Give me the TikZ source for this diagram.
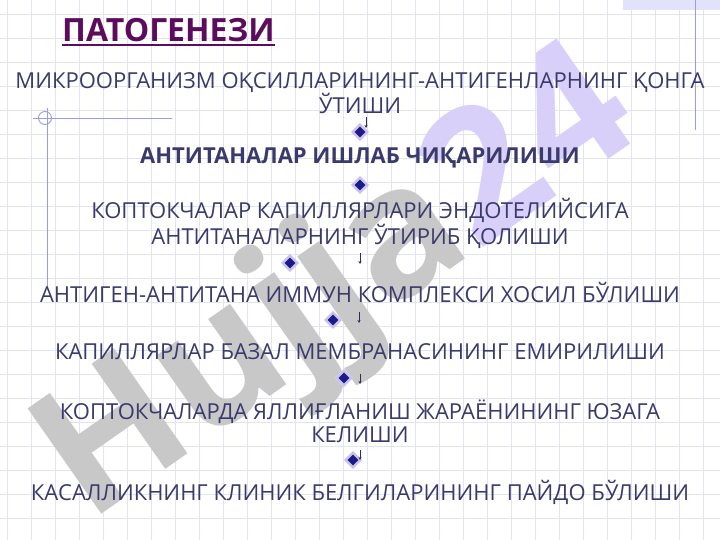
\documentclass[tikz,border=0pt]{standalone}
\usepackage{fontspec}
\setmainfont{Open Sans}
\definecolor{txt}{HTML}{3A3A6C}
\definecolor{ttl}{HTML}{5C0C5C}
\definecolor{gridc}{HTML}{E4E4EE}
\definecolor{deco}{HTML}{9C9CE4}
\definecolor{band}{HTML}{E2E2FA}
\definecolor{halo}{HTML}{C8C0F0}
\definecolor{core}{HTML}{1C1A84}
\definecolor{wmgray}{HTML}{C8C8C8}
\definecolor{wmpurp}{HTML}{D8D0F8}
\tikzset{
  x=1pt, y=-1pt,
  step-text/.style={text=txt, align=center, font=\fontsize{22}{23}\selectfont, inner sep=0pt},
  dia/.style={diamond, fill=halo, draw=halo!70!white, minimum size=18pt, inner sep=0pt,
    path picture={\fill[core] (path picture bounding box.center) ++(0,5.3) -- ++(5.3,-5.3) -- ++(-5.3,-5.3) -- ++(-5.3,5.3) -- cycle;}},
  tinyarrow/.style={draw=txt!80!black, line width=0.6pt, -{Stealth[length=3pt,width=3pt]}},
}
\usetikzlibrary{shapes.geometric,arrows.meta}
\begin{document}
\begin{tikzpicture}
\useasboundingbox (0,0) rectangle (720,540);
\fill[white] (0,0) rectangle (720,540);
% grid
\foreach \gx in {7,31,...,720} \draw[gridc, line width=0.9pt] (\gx,0) -- (\gx,540);
\foreach \gy in {14,38,...,540} \draw[gridc, line width=0.9pt] (0,\gy) -- (720,\gy);
% top-right band and line
\fill[band] (623,0) rectangle (720,10);
\draw[deco, line width=1pt] (695,0) -- (695,130);
% left decoration
\draw[deco, line width=0.9pt] (33,118) -- (172,118);
\draw[deco, line width=0.9pt] (47,108) -- (47,290);
\draw[deco, line width=0.9pt] (45,118) circle (6.5);
% watermark
\node[rotate=35, font=\fontsize{180}{180}\bfseries\selectfont, inner sep=0pt] (wm) at (340,290)
  {\textcolor{wmgray}{Hujja}\textcolor{wmpurp}{24}};
% title
\node[text=ttl, font=\fontsize{32}{34}\bfseries\selectfont, inner sep=0pt, anchor=west] (title) at (62,30) {ПАТОГЕНЕЗИ};
\draw[ttl, line width=2.4pt] (title.south west) ++(0,3) -- ([yshift=-3pt]title.south east);
% steps
\node[step-text] (s1) at (360,93) {МИКРООРГАНИЗМ ОҚСИЛЛАРИНИНГ-АНТИГЕНЛАРНИНГ ҚОНГА\\ЎТИШИ};
\node[step-text, font=\fontsize{22}{23}\bfseries\selectfont] (s2) at (360,158) {АНТИТАНАЛАР ИШЛАБ ЧИҚАРИЛИШИ};
\node[step-text] (s3) at (360,223.5) {КОПТОКЧАЛАР КАПИЛЛЯРЛАРИ ЭНДОТЕЛИЙСИГА\\АНТИТАНАЛАРНИНГ ЎТИРИБ ҚОЛИШИ};
\node[step-text] (s4) at (360,293) {АНТИГЕН-АНТИТАНА ИММУН КОМПЛЕКСИ ХОСИЛ БЎЛИШИ};
\node[step-text] (s5) at (360,352) {КАПИЛЛЯРЛАР БАЗАЛ МЕМБРАНАСИНИНГ ЕМИРИЛИШИ};
\node[step-text] (s6) at (360,421.5) {КОПТОКЧАЛАРДА ЯЛЛИҒЛАНИШ ЖАРАЁНИНИНГ ЮЗАГА\\КЕЛИШИ};
\node[step-text] (s7) at (360,492) {КАСАЛЛИКНИНГ КЛИНИК БЕЛГИЛАРИНИНГ ПАЙДО БЎЛИШИ};
% diamonds
\node[dia] (d1) at (360,132) {};
\node[dia] (d2) at (360,185) {};
\node[dia] (d3) at (290,263) {};
\node[dia] (d4) at (333,320) {};
\node[dia] (d5) at (344,378) {};
\node[dia] (d6) at (353,460) {};
% tiny arrows
\coordinate (a1s) at (366,117); \coordinate (a1e) at (366,128);
\coordinate (a3s) at (360,253); \coordinate (a3e) at (360,264);
\coordinate (a4s) at (359,312); \coordinate (a4e) at (359,323);
\coordinate (a5s) at (360,374); \coordinate (a5e) at (360,384);
\coordinate (a6s) at (360,450); \coordinate (a6e) at (360,460);
\foreach \k in {1,3,4,5,6} \draw[tinyarrow] (a\k s) -- (a\k e);
\end{tikzpicture}
\end{document}
